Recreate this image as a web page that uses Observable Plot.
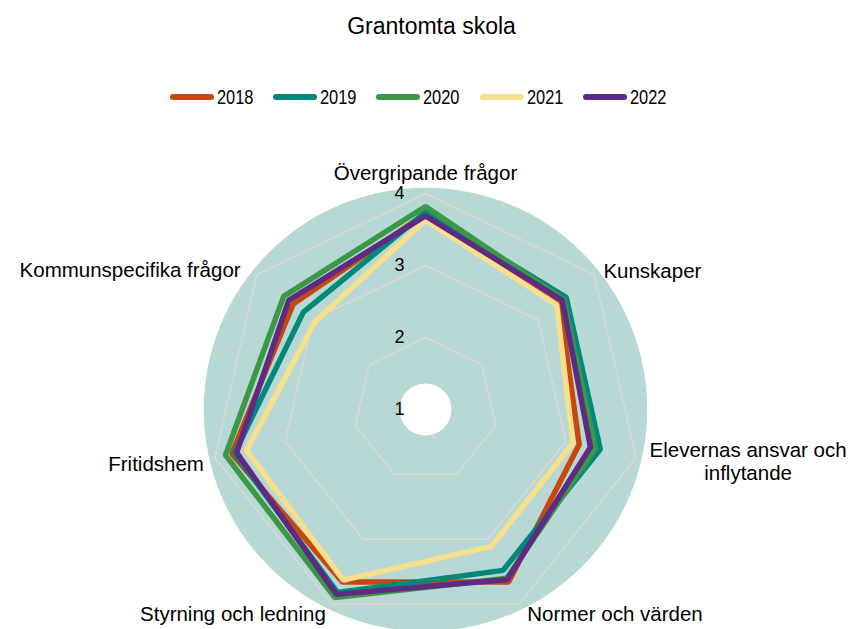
<!DOCTYPE html>
<html>
<head>
<meta charset="utf-8">
<script src="https://cdn.jsdelivr.net/npm/d3@7"></script>
<script src="https://cdn.jsdelivr.net/npm/@observablehq/plot@0.6"></script>
<style>
  html, body { margin: 0; padding: 0; background: #ffffff; }
  #wrap { width: 857px; font-family: "Liberation Sans", Arial, sans-serif; color: #000; }
  #header { position: relative; width: 857px; height: 140px; }
  #title { position: absolute; left: 3px; top: 14.5px; width: 857px; text-align: center; font-size: 23px; line-height: 23px; }
  .item { position: absolute; top: 87px; height: 20px; display: flex; align-items: center; }
  .item span { display: inline-block; font-family: "Liberation Sans", Arial, sans-serif; font-size: 20px; line-height: 20px; margin-left: 3px; transform: scaleX(0.82); transform-origin: 0 50%; }
  .item svg { display: block; }
</style>
</head>
<body>
<div id="wrap">
  <div id="header">
    <div id="title">Grantomta skola</div>
    <div id="legend"></div>
  </div>
  <div id="chart"></div>
</div>
<script>
// ---- data ----
const categories = ["Övergripande frågor", "Kunskaper", "Elevernas ansvar och\ninflytande", "Normer och värden", "Styrning och ledning", "Fritidshem", "Kommunspecifika frågor"];
const years = ["2018", "2019", "2020", "2021", "2022"];
const v2018 = [3.72, 3.38, 3.19, 3.66, 3.66, 3.76, 3.35];
const v2019 = [3.74, 3.50, 3.49, 3.48, 3.82, 3.72, 3.17];
const v2020 = [3.82, 3.45, 3.42, 3.60, 3.90, 3.85, 3.52];
const v2021 = [3.63, 3.33, 3.10, 3.11, 3.63, 3.55, 2.96];
const v2022 = [3.69, 3.43, 3.35, 3.62, 3.85, 3.69, 3.43];
const tickValues = [1, 2, 3, 4];
const colors = ["#C8470E", "#00897B", "#3A9847", "#F6E08C", "#5E2A84"];

// ---- layout ----
const PX = 72;            // pixels per unit
const RMIN = 1;           // radial axis min
const W = 857, H = 489;
const CX = 425, CY = 269; // centre within svg
const N = categories.length;
const seriesValues = [v2018, v2019, v2020, v2021, v2022];

function pos(k, v) {
  const a = 2 * Math.PI * k / N;
  const r = v - RMIN;
  return {x: r * Math.sin(a), y: r * Math.cos(a)};
}

const seriesData = [];
years.forEach((yr, i) => {
  seriesValues[i].forEach((v, k) => {
    const p = pos(k, v);
    seriesData.push({year: yr, cat: categories[k], value: v, x: p.x, y: p.y});
  });
});

const gridData = [];
tickValues.filter(t => t > RMIN).forEach(t => {
  categories.forEach((c, k) => {
    const p = pos(k, t);
    gridData.push({level: t, x: p.x, y: p.y});
  });
});

const maxV = d3.max(tickValues);
const labelLayout = [
  {textAnchor: "middle", dx: 0, dy: -21},
  {textAnchor: "start", dx: 9, dy: -4},
  {textAnchor: "middle", dx: 112, dy: 4},
  {textAnchor: "start", dx: 8, dy: 10},
  {textAnchor: "end", dx: -6, dy: 10},
  {textAnchor: "end", dx: -11, dy: 6},
  {textAnchor: "end", dx: -16, dy: -5}
];

const labelMarks = categories.map((c, k) => {
  const p = pos(k, maxV);
  return Plot.text([c], {
    x: () => p.x, y: () => p.y, text: d => d,
    textAnchor: labelLayout[k].textAnchor,
    dx: labelLayout[k].dx, dy: labelLayout[k].dy,
    fontSize: 20.5, lineHeight: 1.12, fill: "#000"
  });
});

const chart = Plot.plot({
  width: W, height: H, margin: 0,
  x: {domain: [-CX / PX, (W - CX) / PX], range: [0, W], axis: null},
  y: {domain: [-(H - CY) / PX, CY / PX], range: [H, 0], axis: null},
  color: {domain: years, range: colors},
  style: {fontFamily: "Liberation Sans, Arial, sans-serif", background: "white", overflow: "visible"},
  marks: [
    Plot.dot([0], {x: () => 0, y: () => 0, r: 3.08 * PX, fill: "#B8D8D5", stroke: "none"}),
    Plot.dot([0], {x: () => 0, y: () => 0, r: 26, fill: "#ffffff", stroke: "none"}),
    Plot.line(gridData, {x: "x", y: "y", z: "level", stroke: "#D9D9D9", strokeWidth: 1.5, curve: "linear-closed"}),
    Plot.text(tickValues, {x: () => 0, y: d => d - RMIN, text: d => String(d), textAnchor: "end", dx: -21, fontSize: 18, fill: "#000"}),
    Plot.line(seriesData, {x: "x", y: "y", z: "year", stroke: "year", strokeWidth: 5.5, strokeLinejoin: "miter", strokeLinecap: "butt", curve: "linear-closed"}),
    ...labelMarks
  ]
});
document.getElementById("chart").appendChild(chart);

// ---- legend ----
const legend = document.getElementById("legend");
years.forEach((yr, i) => {
  const item = document.createElement("div");
  item.className = "item";
  item.style.left = (170 + i * 103.2) + "px";
  const ns = "http://www.w3.org/2000/svg";
  const svg = document.createElementNS(ns, "svg");
  svg.setAttribute("width", 44);
  svg.setAttribute("height", 10);
  const ln = document.createElementNS(ns, "line");
  ln.setAttribute("x1", 3); ln.setAttribute("x2", 41);
  ln.setAttribute("y1", 5); ln.setAttribute("y2", 5);
  ln.setAttribute("stroke", colors[i]);
  ln.setAttribute("stroke-width", 6);
  ln.setAttribute("stroke-linecap", "round");
  svg.appendChild(ln);
  const sp = document.createElement("span");
  sp.textContent = yr;
  item.appendChild(svg);
  item.appendChild(sp);
  legend.appendChild(item);
});
</script>
</body>
</html>
